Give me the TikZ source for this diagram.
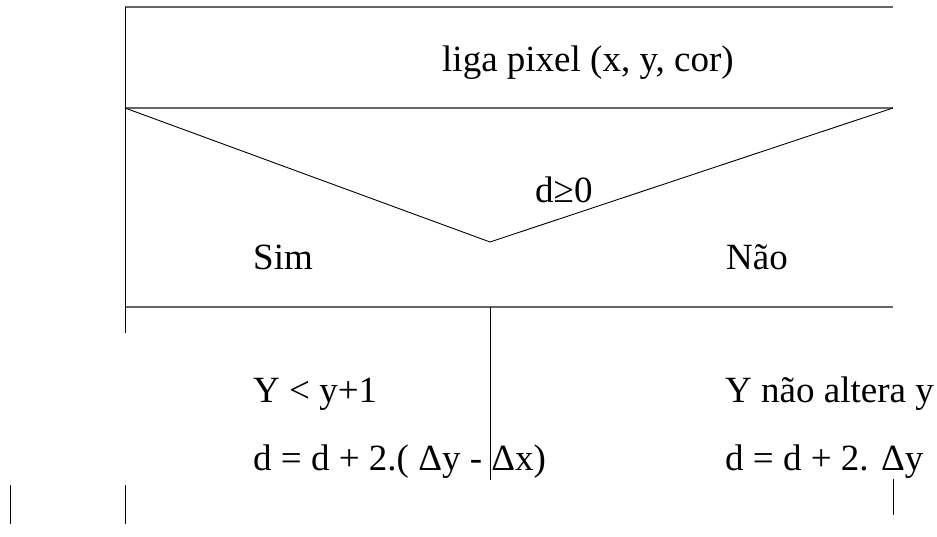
\documentclass[tikz,border=0pt]{standalone}
\usepackage{fontspec}
\setmainfont{Liberation Serif}
\begin{document}
\begin{tikzpicture}[x=1pt,y=-1pt,
  hline/.style={draw=black!60,line width=1.3pt},
  vline/.style={draw=black,line width=0.9pt},
  lbl/.style={anchor=base west,inner sep=0pt,font=\fontsize{37}{44}\selectfont}]
\useasboundingbox (0,0) rectangle (937,537);
% frame coordinates
\coordinate (tl) at (125,7);
\coordinate (tr) at (893,7);
\coordinate (ml) at (125,108);
\coordinate (mr) at (893,108);
\coordinate (tip) at (490,242);
\coordinate (bl) at (125,307);
\coordinate (bm) at (490,307);
\coordinate (br) at (893,307);
\coordinate (lend) at (125,333);
\coordinate (mend) at (490,480);
% horizontal rules
\draw[hline] (tl) -- (tr);
\draw[hline] (ml) -- (mr);
\draw[hline] (bl) -- (br);
% verticals
\draw[vline] (tl) -- (lend);
\draw[vline] (bm) -- (mend);
% condition triangle
\draw[vline] (ml) -- (tip) -- (mr);
% short stubs at bottom
\coordinate (s1a) at (10,485);  \coordinate (s1b) at (10,524);
\coordinate (s2a) at (125,485); \coordinate (s2b) at (125,524);
\coordinate (s3a) at (893,479); \coordinate (s3b) at (893,515);
\draw[vline] (s1a) -- (s1b);
\draw[vline] (s2a) -- (s2b);
\draw[vline] (s3a) -- (s3b);
% texts
\node[lbl] (title) at (442,72) {liga pixel (x, y, cor)};
\node[lbl] (cond) at (535,203) {d≥0};
\node[lbl] (sim) at (253,270) {Sim};
\node[lbl] (nao) at (726,270) {Não};
\node[lbl] (l1) at (253,402) {Y < y+1};
\node[lbl] (l2) at (253,470) {d = d + 2.( Δy - Δx)};
\node[lbl] (r1) at (725,402) {Y não altera y};
\node[lbl] (r2) at (725,470) {d = d + 2. Δy};
\end{tikzpicture}
\end{document}
